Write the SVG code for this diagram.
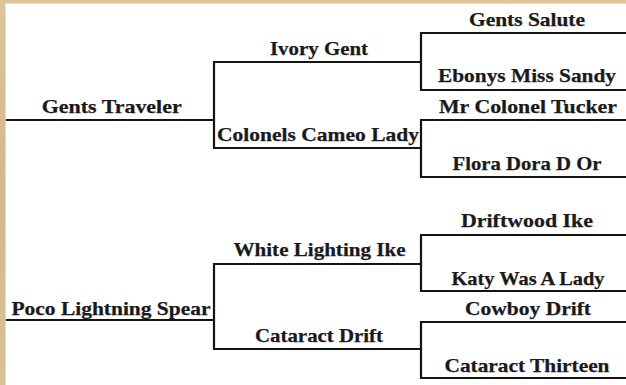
<svg xmlns="http://www.w3.org/2000/svg" width="626" height="385" viewBox="0 0 626 385">
<defs>
<linearGradient id="beige" x1="0" y1="0" x2="0" y2="1">
<stop offset="0" stop-color="#dcc59c"/>
<stop offset="0.5" stop-color="#d2b98a"/>
<stop offset="1" stop-color="#d8c195"/>
</linearGradient>
</defs>
<style>
.ln{fill:none;stroke:#141414;stroke-width:2.2;stroke-linecap:square}
.t{font-family:"Liberation Serif","DejaVu Serif",serif;font-weight:bold;font-size:19px;fill:#1a1a1a;text-anchor:middle;stroke:#1a1a1a;stroke-width:0.25}
</style>
<rect x="0" y="0" width="626" height="385" fill="url(#beige)"/>
<rect x="5.5" y="3.5" width="625" height="385" fill="#ffffff" stroke="#dcdcdc" stroke-width="1"/>
<g id="connectors">
<path class="ln" d="M7,120 H214 M214,62 V148 M214,62 H421 M214,148 H421"/>
<path class="ln" d="M421,33 V90 M421,33 H626 M421,90 H626"/>
<path class="ln" d="M421,120 V177 M421,120 H626 M421,177 H626"/>
<path class="ln" d="M7,320 H214 M214,264 V349 M214,264 H421 M214,349 H421"/>
<path class="ln" d="M421,235 V291 M421,235 H626 M421,291 H626"/>
<path class="ln" d="M421,322 V378 M421,322 H626 M421,378 H626"/>
</g>
<g id="n-gents-traveler"><text class="t" x="111.7" y="113.3" textLength="140" lengthAdjust="spacingAndGlyphs">Gents Traveler</text></g>
<g id="n-ivory-gent"><text class="t" x="319" y="55" textLength="98" lengthAdjust="spacingAndGlyphs">Ivory Gent</text></g>
<g id="n-colonels-cameo-lady"><text class="t" x="318" y="140.5" textLength="202" lengthAdjust="spacingAndGlyphs">Colonels Cameo Lady</text></g>
<g id="n-gents-salute"><text class="t" x="527" y="26" textLength="116" lengthAdjust="spacingAndGlyphs">Gents Salute</text></g>
<g id="n-ebonys-miss-sandy"><text class="t" x="527" y="82" textLength="178" lengthAdjust="spacingAndGlyphs">Ebonys Miss Sandy</text></g>
<g id="n-mr-colonel-tucker"><text class="t" x="528" y="112.5" textLength="178" lengthAdjust="spacingAndGlyphs">Mr Colonel Tucker</text></g>
<g id="n-flora-dora-d-or"><text class="t" x="527" y="170" textLength="149" lengthAdjust="spacingAndGlyphs">Flora Dora D Or</text></g>
<g id="n-poco-lightning-spear"><text class="t" x="111" y="315.3" textLength="199" lengthAdjust="spacingAndGlyphs">Poco Lightning Spear</text></g>
<g id="n-white-lighting-ike"><text class="t" x="319.5" y="256" textLength="172" lengthAdjust="spacingAndGlyphs">White Lighting Ike</text></g>
<g id="n-cataract-drift"><text class="t" x="319" y="342" textLength="128" lengthAdjust="spacingAndGlyphs">Cataract Drift</text></g>
<g id="n-driftwood-ike"><text class="t" x="527" y="227" textLength="132" lengthAdjust="spacingAndGlyphs">Driftwood Ike</text></g>
<g id="n-katy-was-a-lady"><text class="t" x="528" y="285.3" textLength="153" lengthAdjust="spacingAndGlyphs">Katy Was A Lady</text></g>
<g id="n-cowboy-drift"><text class="t" x="528" y="314.7" textLength="126" lengthAdjust="spacingAndGlyphs">Cowboy Drift</text></g>
<g id="n-cataract-thirteen"><text class="t" x="527" y="372" textLength="165" lengthAdjust="spacingAndGlyphs">Cataract Thirteen</text></g>
</svg>
